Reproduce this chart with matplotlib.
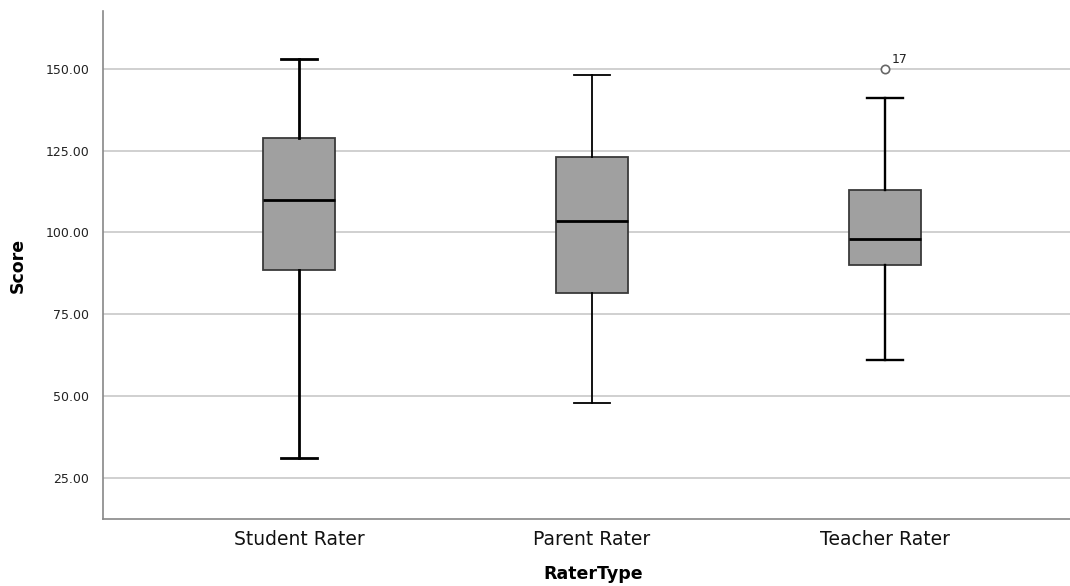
import matplotlib
matplotlib.use("Agg")
import matplotlib.pyplot as plt

categories = ["Student Rater", "Parent Rater", "Teacher Rater"]
whisker_low = [31, 48, 61]
q1 = [88.6, 81.5, 90]
median = [110, 103.4, 98]
q3 = [129, 123, 113]
whisker_high = [153, 148, 141]
outliers = [[], [], [150]]
outlier_labels = [[], [], ["17"]]
yticks = [25, 50, 75, 100, 125, 150]

fig = plt.figure(figsize=(10.7, 5.86), dpi=100)
ax = fig.add_axes([103/1070, 1 - 519/586, (1070 - 103)/1070, (519 - 11)/586])

stats = []
for i, c in enumerate(categories):
    stats.append(dict(label=c, whislo=whisker_low[i], q1=q1[i], med=median[i],
                      q3=q3[i], whishi=whisker_high[i], fliers=[]))

pos = list(range(len(categories)))
wlw = [2.0, 1.3, 1.7]
for i, s in enumerate(stats):
    ax.bxp([s], positions=[pos[i]], widths=0.246, patch_artist=True,
           showfliers=False,
           boxprops=dict(facecolor="#a0a0a0", edgecolor="#3a3a3a", linewidth=1.3),
           medianprops=dict(color="black", linewidth=2.0),
           whiskerprops=dict(color="black", linewidth=wlw[i]),
           capprops=dict(color="black", linewidth=wlw[i]),
           capwidths=0.123, zorder=3)
    for v, lab in zip(outliers[i], outlier_labels[i]):
        ax.plot([pos[i]], [v], marker="o", markersize=6, markerfacecolor="white",
                markeredgecolor="#666666", markeredgewidth=1.2, linestyle="none", zorder=4)
        ax.annotate(lab, (pos[i], v), xytext=(5, 4), textcoords="offset points",
                    fontsize=9, color="#222222")

ax.set_xlim(-0.669, 2.631)
ax.set_ylim(12.4, 167.7)
ax.set_yticks(yticks)
ax.set_yticklabels([f"{v:.2f}" for v in yticks], fontsize=9, color="#222222")
ax.set_xticks(pos)
ax.set_xticklabels(categories, fontsize=13.5, color="#111111")
ax.tick_params(axis="both", length=0)
ax.tick_params(axis="y", pad=10)
ax.tick_params(axis="x", pad=8)
ax.yaxis.grid(True, color="#c8c8c8", linewidth=1.2, zorder=0)
ax.set_axisbelow(True)
for side in ["top", "right"]:
    ax.spines[side].set_visible(False)
for side in ["left", "bottom"]:
    ax.spines[side].set_color("#888888")
    ax.spines[side].set_linewidth(1.2)

ax.set_ylabel("Score", fontsize=12.5, fontweight="bold", va="center")
ax.yaxis.set_label_coords((18 - 103) / 967, 0.5)
ax.set_xlabel("RaterType", fontsize=12.5, fontweight="bold", va="center")
ax.xaxis.set_label_coords((593 - 103) / 967, (519 - 574) / 508)

fig.savefig("out.png", dpi=100)
